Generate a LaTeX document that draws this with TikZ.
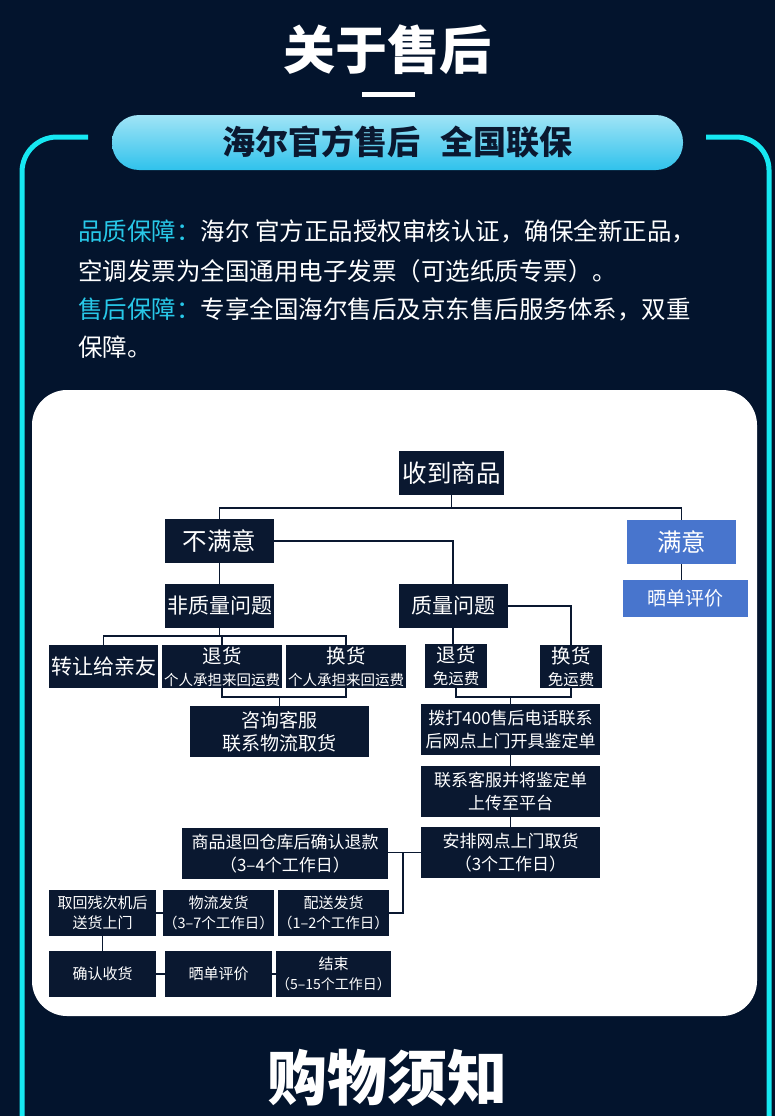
\documentclass[tikz,border=0pt]{standalone}
\usepackage{fontspec}
\setmainfont{Noto Sans CJK SC}

\definecolor{deepnavy}{RGB}{3,20,45}
\definecolor{boxnavy}{RGB}{10,24,48}
\definecolor{flowblue}{RGB}{72,117,205}
\definecolor{neoncyan}{RGB}{22,232,242}
\definecolor{tagcyan}{RGB}{40,200,232}
\definecolor{pilltop}{RGB}{160,228,246}
\definecolor{pillbot}{RGB}{48,194,236}

\newcommand{\fsz}[2]{\fontsize{#1}{#2}\selectfont}

\begin{document}
\begin{tikzpicture}[x=1pt, y=-1pt,
    box/.style={fill=boxnavy, text=white, align=center, inner sep=0pt},
    bluebox/.style={box, fill=flowblue},
    link/.style={draw=boxnavy, line width=1.3pt},
    neonline/.style={draw=neoncyan, line width=5pt}]

        % ==== BACKGROUND ====
        \fill[deepnavy] (0,0) rectangle (775,1116);
        \useasboundingbox (0,0) rectangle (775,1116);

        % ==== HEADER ====
        \node[text=white, font=\bfseries\fsz{52}{56}] (title) at (387,50) {关于售后};
        \fill[white] (362,92) rectangle (415,97);

        % ==== CYAN FRAME ====
        \draw[neonline, rounded corners=35] (88,137) -- (22,137) -- (22,1125);
        \draw[neonline, rounded corners=33] (706,137) -- (769,137) -- (769,1125);

        % ==== BANNER ====
        \shade[top color=pilltop, bottom color=pillbot, rounded corners=27] (112,115) rectangle (683,170);
        \node[text=boxnavy, font=\bfseries\fsz{33}{36}] (slogan) at (397,142) {海尔官方售后\hspace{20pt}全国联保};

        % ==== TEXT ====
        \node[anchor=west, text=white, font=\fsz{24.5}{28}, inner sep=0] (line1) at (78,231)
            {\textcolor{tagcyan}{品质保障：}海尔 官方正品授权审核认证，确保全新正品，};
        \node[anchor=west, text=white, font=\fsz{24.5}{28}, inner sep=0] (line2) at (78,271)
            {空调发票为全国通用电子发票（可选纸质专票）。};
        \node[anchor=west, text=white, font=\fsz{24.5}{28}, inner sep=0] (line3) at (78,309)
            {\textcolor{tagcyan}{售后保障：}专享全国海尔售后及京东售后服务体系，双重};
        \node[anchor=west, text=white, font=\fsz{24.5}{28}, inner sep=0] (line4) at (78,347)
            {保障。};

        % ==== PANEL ====
        \fill[white, rounded corners=35] (32,390) rectangle (757,1016);

        % ==== FLOW: TOP ====
        \node[box, minimum width=105, minimum height=44, font=\fsz{24.5}{28}] (top) at (451.5,473) {收到商品};
        \node[box, minimum width=109, minimum height=44, font=\fsz{24.5}{28}] (unsat) at (219.5,541) {不满意};
        \node[bluebox, minimum width=109, minimum height=44, font=\fsz{24.5}{28}] (sat) at (681.5,542) {满意};
        \node[bluebox, minimum width=125, minimum height=37, font=\fsz{19}{22}] (satrev) at (685.5,598.5) {晒单评价};

        % ==== FLOW: NON-QUALITY ====
        \node[box, minimum width=109, minimum height=44, font=\fsz{21}{24}] (nonq) at (219.5,606) {非质量问题};
        \node[box, minimum width=109, minimum height=43, font=\fsz{21}{24}] (gift) at (103.5,666.5) {转让给亲友};
        \node[box, minimum width=120, minimum height=43, font=\fsz{19.5}{22}] (ret1) at (222,666.5)
            {退货\\\fsz{14.5}{17}个人承担来回运费};
        \node[box, minimum width=120, minimum height=43, font=\fsz{19.5}{22}] (exc1) at (346,666.5)
            {换货\\\fsz{14.5}{17}个人承担来回运费};
        \node[box, minimum width=179, minimum height=51, font=\fsz{19}{23}] (consult) at (279.5,731.5)
            {咨询客服\\联系物流取货};

        % ==== FLOW: QUALITY ====
        \node[box, minimum width=109, minimum height=44, font=\fsz{21}{24}] (qual) at (453,606) {质量问题};
        \node[box, minimum width=62, minimum height=44, font=\fsz{19.5}{22}] (ret2) at (456,666)
            {退货\\\fsz{15.5}{18}免运费};
        \node[box, minimum width=62, minimum height=43, font=\fsz{19.5}{22}] (exc2) at (571,666.5)
            {换货\\\fsz{15.5}{18}免运费};
        \node[box, minimum width=179, minimum height=51, font=\fsz{17}{23}] (dial) at (510.5,729.5)
            {拨打400售后电话联系\\后网点上门开具鉴定单};
        \node[box, minimum width=179, minimum height=51, font=\fsz{17}{23}] (upload) at (510.5,791.5)
            {联系客服并将鉴定单\\上传至平台};
        \node[box, minimum width=179, minimum height=51, font=\fsz{17}{23}] (pickup) at (510.5,852.5)
            {安排网点上门取货\\（3个工作日）};

        % ==== FLOW: BOTTOM ====
        \node[box, minimum width=206, minimum height=51, font=\fsz{17}{23}] (refund) at (285,853.5)
            {商品退回仓库后确认退款\\（3–4个工作日）};
        \node[box, minimum width=107, minimum height=46, font=\fsz{15}{20}] (fetch) at (102.5,913)
            {取回残次机后\\送货上门};
        \node[box, minimum width=107, minimum height=46, font=\fsz{15}{20}] (ship) at (218.5,913)
            {物流发货\\\fsz{14.5}{20}（3–7个工作日）};
        \node[box, minimum width=107, minimum height=46, font=\fsz{15}{20}] (deliver) at (333.5,913)
            {配送发货\\\fsz{14.5}{20}（1–2个工作日）};
        \node[box, minimum width=107, minimum height=46, font=\fsz{15}{20}] (confirm) at (102.5,974) {确认收货};
        \node[box, minimum width=107, minimum height=46, font=\fsz{15}{20}] (review) at (218.5,974) {晒单评价};
        \node[box, minimum width=107, minimum height=46, font=\fsz{15}{20}] (done) at (333.5,974)
            {结束\\\fsz{14}{20}（5–15个工作日）};

        % ==== CONNECTORS ====
        \coordinate (split1) at (451.5,508);
        \draw[link] (top) -- (split1);
        \draw[link] (unsat.north) |- (split1) -| (sat.north);
        \draw[link] (sat.south) -- (sat.south |- satrev.north);
        \draw[link] (unsat) -- (nonq);
        \draw[link] (unsat.east) -| (qual.north);

        \coordinate (split2) at (219.5,636);
        \draw[link] (nonq) -- (split2);
        \draw[link] (gift.north) |- (split2) -| (exc1.north);
        \draw[link] (ret1) -- (ret1 |- split2);
        \coordinate (merge1) at (279.5,697);
        \draw[link] (ret1.south) |- (merge1) -| (exc1.south);
        \draw[link] (merge1) -- (consult);

        \draw[link] (qual.east) -| (exc2.north);
        \draw[link] (qual.south) -- (qual.south |- ret2.north);
        \coordinate (merge2) at (510.5,697);
        \draw[link] (ret2.south) |- (merge2) -| (exc2.south);
        \draw[link] (merge2) -- (dial);
        \draw[link] (dial) -- (upload);
        \draw[link] (upload) -- (pickup);

        \draw[link] (pickup.west) -- (refund.east |- pickup.west);
        \coordinate (split3) at (403,852.5);
        \draw[link] (split3) |- (deliver.east);
        \draw[link] (fetch) -- (ship);
        \draw[link] (fetch) -- (confirm);
        \draw[link] (confirm) -- (review);
        \draw[link] (review) -- (done);

        % ==== FOOTER ====
        \node[text=white, font=\bfseries\fsz{60}{64}] (footer) at (387,1078) {购物须知};

\end{tikzpicture}
\end{document}
